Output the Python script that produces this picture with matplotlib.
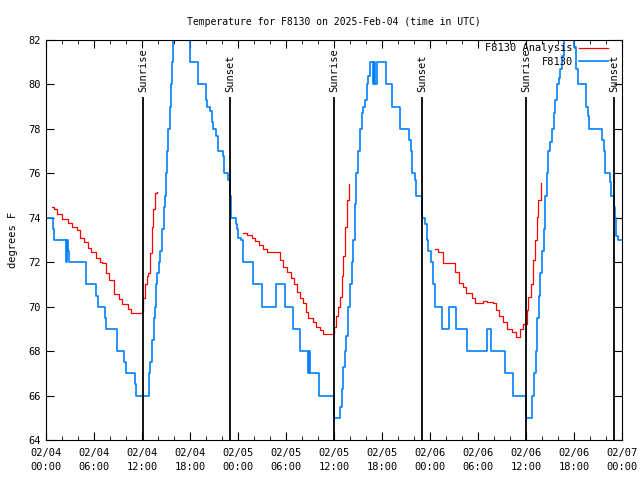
import numpy as np
import matplotlib
matplotlib.use('Agg')
import matplotlib.pyplot as plt
import matplotlib.transforms as mtransforms

plt.rcParams['font.family'] = 'DejaVu Sans Mono'
plt.rcParams['font.size'] = 7

# hours since 2025-02-04 00:00 UTC, station obs (F8130)
obs_hours = [0.0, 0.875, 1.0, 2.5, 2.65, 2.75, 2.9, 4.95, 6.3, 6.45, 7.35, 7.5, 8.85, 9.8, 9.95, 11.1, 11.25,
             12.9, 13.05, 13.3, 13.45, 13.6, 13.75, 13.9, 14.15, 14.3, 14.55, 14.7, 14.85, 15.0, 15.15, 15.3,
             15.45, 15.6, 15.75, 15.9, 16.05, 16.3, 17.6, 17.9, 18.05, 19.05, 19.95, 20.1, 20.5, 20.7, 20.9,
             21.2, 21.55, 22.1, 22.2, 22.8, 23.0, 23.1, 23.75, 23.85, 24.05, 24.35, 24.67, 25.9, 27.0, 28.75,
             29.85, 30.85, 31.8, 32.8, 32.9, 33.0, 34.15, 36.05, 36.75, 36.95, 37.15, 37.35, 37.55, 37.8, 38.0,
             38.2, 38.4, 38.6, 38.8, 39.05, 39.25, 39.45, 39.65, 39.9, 40.1, 40.3, 40.55, 40.85, 41.0, 41.1,
             41.4, 42.45, 43.3, 44.3, 45.35, 45.6, 45.8, 46.1, 46.3, 47.05, 47.4, 47.6, 47.8, 48.1, 48.35, 48.6,
             49.55, 50.4, 51.3, 52.6, 55.1, 55.65, 57.4, 58.35, 59.98, 60.8, 61.0, 61.2, 61.4, 61.6, 61.8, 62.0,
             62.2, 62.4, 62.6, 62.8, 63.0, 63.25, 63.45, 63.65, 63.85, 64.1, 64.3, 64.5, 64.7, 65.0, 65.3, 65.6,
             65.9, 66.0, 66.3, 66.55, 67.55, 67.75, 67.9, 69.45, 69.7, 69.9, 70.45, 70.65, 70.95, 71.1, 71.3,
             71.5, 71.85]
obs_temp = [74, 73.5, 73, 72, 73, 72.5, 72, 71, 70.5, 70, 69.5, 69, 68, 67.5, 67, 66.5, 66,
            67, 67.5, 68.5, 69.5, 70, 71, 71.5, 72, 72.5, 73.5, 74.5, 75, 76, 77, 78,
            79, 80, 81, 82, 83, 84, 83, 82, 81, 80, 79.3, 79, 78.8, 78.3, 78,
            77.7, 77, 76.8, 76, 75.7, 75, 74, 73.7, 73.5, 73.1, 73, 72, 71, 70, 71,
            70, 69, 68, 67, 68, 67, 66, 65, 65.5, 66.3, 67.3, 68, 68.7, 70, 71,
            72, 73, 74.6, 76, 77, 78, 78.7, 79, 79.3, 80, 80.4, 81, 80, 81, 80,
            81, 80, 79, 78, 77.5, 77, 76, 75.7, 75, 74, 73.7, 73, 72.5, 72, 71, 70,
            69, 70, 69, 68, 69, 68, 67, 66, 65, 66, 67, 68, 69.5, 70.5, 71.5, 72.5,
            73.5, 75, 76, 77, 77.4, 78, 78.7, 79.3, 80, 80.3, 80.7, 81.3, 82.5, 83, 82.5, 83,
            82.2, 81.7, 80.7, 80, 79, 78.6, 78, 77.5, 77, 76, 75.6, 75, 74.5, 74, 73.2,
            73, 73]

# analysis series (three overnight/morning windows)
ana_hours = [0.7, 1.0, 1.4, 2.0, 2.7, 3.3, 3.9, 4.3, 4.75, 5.2, 5.6, 6.2, 6.8, 7.05, 7.45, 7.9, 8.5, 9.1,
             9.55, 10.2, 10.65, 11.2, 11.95, 12.1, 12.4, 12.6, 12.8, 13.0, 13.2, 13.4, 13.6, 13.9,
             np.nan,
             24.67, 25.08, 25.7, 26.1, 26.67, 27.17, 27.58, 28.92, 29.25, 29.58, 30.08, 30.58, 31.0, 31.42,
             31.75, 32.08, 32.5, 32.8, 33.4, 33.75, 34.25, 34.67, 35.92, 36.04, 36.25, 36.54, 36.75, 36.96,
             37.17, 37.38, 37.58, 37.85,
             np.nan,
             48.62, 49.04, 49.58, 50.29, 50.83, 51.12, 51.67, 52.08, 52.5, 53.21, 53.62, 54.04, 54.58, 55.17,
             55.83, 56.25, 56.67, 57.08, 57.58, 58.21, 58.75, 59.25, 59.67, 59.92, 60.08, 60.29, 60.58, 60.92,
             61.12, 61.33, 61.54, 61.83]
ana_temp = [74.5, 74.4, 74.15, 73.95, 73.75, 73.6, 73.45, 73.1, 72.9, 72.65, 72.45, 72.2, 72.0, 71.95, 71.5,
            71.2, 70.55, 70.35, 70.1, 69.9, 69.7, 69.7, 69.75, 70.4, 71.0, 71.4, 71.5, 72.4, 73.6, 74.4, 75.1,
            75.15,
            np.nan,
            73.3, 73.22, 73.07, 72.95, 72.78, 72.6, 72.45, 72.45, 72.1, 71.8, 71.55, 71.28, 71.0, 70.67, 70.4,
            70.15, 69.75, 69.48, 69.3, 69.1, 68.95, 68.76, 68.76, 69.1, 69.6, 70.0, 70.45, 71.4, 72.3, 73.6,
            74.8, 75.5,
            np.nan,
            72.58, 72.45, 71.98, 71.98, 71.98, 71.57, 71.05, 70.9, 70.6, 70.38, 70.15, 70.18, 70.25, 70.2,
            70.15, 69.85, 69.6, 69.3, 69.0, 68.85, 68.65, 69.0, 69.22, 69.22, 69.85, 70.45, 71.0, 72.1, 73.0,
            74.05, 74.8, 75.55]

sun_hours = [12.1, 23.05, 36.05, 47.05, 60.05, 71.05]
sun_labels = ['Sunrise', 'Sunset', 'Sunrise', 'Sunset', 'Sunrise', 'Sunset']

tick_hours = [0, 6, 12, 18, 24, 30, 36, 42, 48, 54, 60, 66, 72]
tick_labels = ['02/04\n00:00', '02/04\n06:00', '02/04\n12:00', '02/04\n18:00',
               '02/05\n00:00', '02/05\n06:00', '02/05\n12:00', '02/05\n18:00',
               '02/06\n00:00', '02/06\n06:00', '02/06\n12:00', '02/06\n18:00',
               '02/07\n00:00']

fig = plt.figure(figsize=(6.4, 4.8), dpi=100)
ax = fig.add_axes([46/640, 40/480, 576/640, 400/480])

ax.step(ana_hours, ana_temp, where='post', color='#ff0000', lw=0.9, label='F8130 Analysis')
ax.step(obs_hours, obs_temp, where='post', color='#0080ff', lw=1.2, label='F8130')

# sunrise / sunset markers
trans = mtransforms.blended_transform_factory(ax.transData, ax.transAxes)
for h, lab in zip(sun_hours, sun_labels):
    ax.plot([h, h], [0, 0.855], color='black', lw=1.3, transform=trans, zorder=3)
    ax.text(h, 0.87, lab, rotation=90, ha='center', va='bottom', transform=trans, fontsize=7.5)

ax.set_xlim(0, 72)
ax.set_ylim(64, 82)
ax.set_xticks(tick_hours)
ax.set_xticklabels(tick_labels, linespacing=1.5)
ax.set_xticks(np.arange(0, 73, 2), minor=True)
ax.set_yticks(np.arange(64, 83, 2))
ax.tick_params(which='both', direction='in', top=True, right=True, labelsize=7.5)
ax.tick_params(which='major', length=6)
ax.tick_params(which='minor', length=3)
ax.tick_params(axis='x', pad=6)

ax.set_ylabel('degrees F', fontsize=7.5, labelpad=8)
ax.set_title('Temperature for F8130 on 2025-Feb-04 (time in UTC)', fontsize=7, pad=11)

ax.legend(loc='upper right', bbox_to_anchor=(0.985, 1.005), frameon=False, markerfirst=False,
          handlelength=2.8, borderaxespad=0.1, labelspacing=0.35, handletextpad=0.6, fontsize=7.5)

fig.savefig('out.png', dpi=100)
